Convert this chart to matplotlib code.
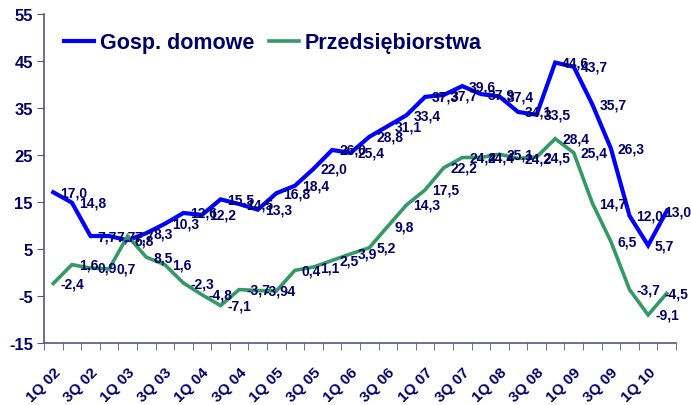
import matplotlib
matplotlib.use("Agg")
import matplotlib.pyplot as plt
import numpy as np

plt.rcParams['font.family'] = ['Liberation Sans', 'DejaVu Sans']
plt.rcParams['font.weight'] = 'bold'

quarters = [f"{q}Q {y:02d}" for y in range(2, 11) for q in range(1, 5)][:34]

households = [17.0, 14.8, 7.7, 7.7, 6.8, 8.3, 10.3, 12.6, 12.2, 15.5, 14.5, 13.3,
              16.8, 18.4, 22.0, 26.0, 25.4, 28.8, 31.1, 33.4, 37.3, 37.7, 39.6, 37.9,
              37.4, 34.1, 33.5, 44.6, 43.7, 35.7, 26.3, 12.0, 5.7, 13.0]
enterprises = [-2.4, 1.6, 0.9, 0.7, 7.7, 3.2, 1.6, -2.3, -4.8, -7.1, -3.7, -3.9,
               -4.0, 0.4, 1.1, 2.5, 3.9, 5.2, 9.8, 14.3, 17.5, 22.2, 24.4, 24.4,
               25.1, 24.2, 24.5, 28.4, 25.4, 14.7, 6.5, -3.7, -9.1, -4.5]
households_labels = [f"{v:.1f}".replace('.', ',') for v in households]
enterprises_labels = ["-2,4", "1,6", "0,9", "0,7", "7,7", "8,5", "1,6", "-2,3",
                      "-4,8", "-7,1", "-3,7", "-3,9", "-4", "0,4", "1,1", "2,5",
                      "3,9", "5,2", "9,8", "14,3", "17,5", "22,2", "24,4", "24,4",
                      "25,1", "24,2", "24,5", "28,4", "25,4", "14,7", "6,5", "-3,7",
                      "-9,1", "-4,5"]
series_names = ["Gosp. domowe", "Przedsiębiorstwa"]
yticks = list(range(-15, 56, 10))

NAVY = '#000066'
BLUE = '#0000FF'
GREEN = '#339966'
AXC = '#555588'

fig = plt.figure(figsize=(6.91, 4.06), dpi=100)
ax = fig.add_axes([44/691, 1-343.7/406, (676-44)/691, (343.7-14.7)/406])

x = np.arange(len(quarters))
ax.plot(x, households, color=BLUE, lw=3.0, label=series_names[0], solid_joinstyle='miter')
ax.plot(x, enterprises, color=GREEN, lw=2.6, label=series_names[1], solid_joinstyle='miter')

last = len(quarters) - 1
for vals, labs in ((households, households_labels), (enterprises, enterprises_labels)):
    for xi, v, t in zip(x, vals, labs):
        dx = -1.5 if xi == last else 5
        ax.annotate(t, (xi, v), xytext=(dx, 0), textcoords='offset points',
                    ha='left', va='center', fontsize=10, fontweight='bold',
                    color=NAVY, annotation_clip=False)

ax.set_xlim(-0.5, len(quarters) - 0.5)
ax.set_ylim(-15, 55)
ax.set_yticks(yticks)
ax.set_yticklabels([str(t) for t in yticks], fontsize=12, fontweight='bold', color=NAVY)

ax.set_xticks(x[::2])
ax.set_xticklabels(quarters[::2], rotation=45, ha='right', rotation_mode='anchor',
                   fontsize=11, fontweight='bold', color=NAVY)
ax.tick_params(axis='x', which='major', length=0, pad=16)
ax.set_xticks(np.arange(-0.5, len(quarters), 1), minor=True)
ax.tick_params(axis='x', which='minor', length=5, direction='out', color=AXC)
ax.tick_params(axis='y', length=5, direction='out', color=AXC, pad=3)

for s in ['top', 'right']:
    ax.spines[s].set_visible(False)
for s in ['left', 'bottom']:
    ax.spines[s].set_color(AXC)
    ax.spines[s].set_linewidth(1.2)

leg = fig.legend(loc='center left', bbox_to_anchor=(64/691, 1-44/406), ncol=2,
                 frameon=False, fontsize=15.5, handlelength=1.4, handletextpad=0.25,
                 columnspacing=0.7, borderpad=0, borderaxespad=0)
for t in leg.get_texts():
    t.set_color(NAVY)
    t.set_fontweight('bold')

fig.savefig('out.png', dpi=100)
